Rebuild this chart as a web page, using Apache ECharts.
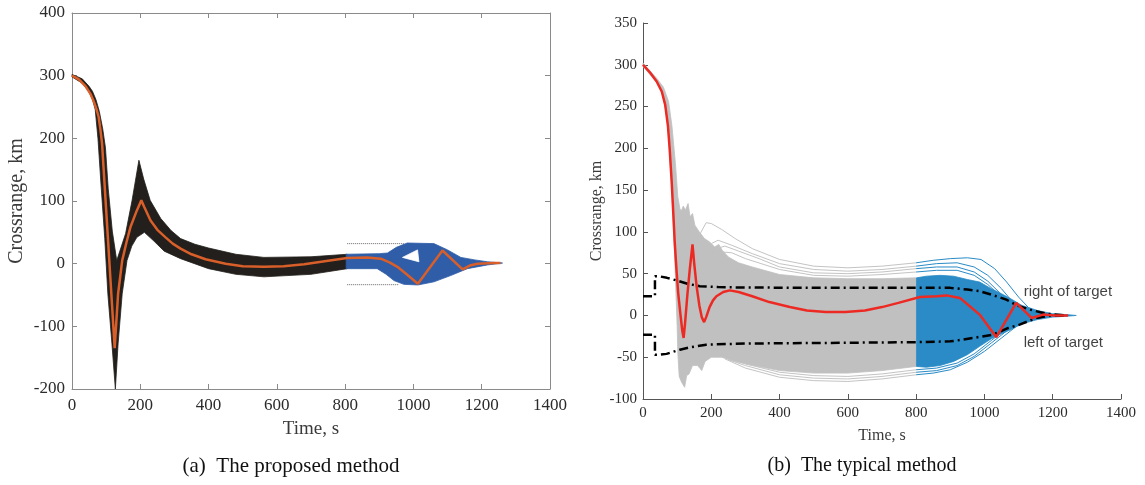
<!DOCTYPE html>
<html>
<head>
<meta charset="utf-8">
<script src="https://cdn.jsdelivr.net/npm/echarts@6/dist/echarts.min.js"></script>
<style>
html, body { margin: 0; padding: 0; background: #fff; }
#chart { width: 1145px; height: 485px; }
</style>
</head>
<body>
<div id="chart"></div>
<script>
// ---------- (a) proposed method : [time s, crossrange km] ----------
const aNominal = [[0,300],[20,294],[40,283],[54,271],[65,257],[72,246],[78,234],[83,215],[88,192],[95,130],[103,60],[110,-2],[117,-64],[125,-135],[135,-48],[147,5],[160,35],[171,58],[190,85],[203,101],[212,90],[230,69],[250,54],[274,42],[295,32],[318,24],[350,15],[391,7],[450,0],[500,-4],[562,-5],[620,-4],[680,-1],[740,4],[806,9],[865,10],[904,8],[930,2],[953,-5],[980,-17],[1013,-32],[1085,21],[1144,-9],[1165,-3],[1188,0],[1236,1],[1255,1]];
const aBundleUpper = [[0,302],[30,295],[50,283],[60,275],[70,262],[80,243],[90,215],[98,185],[106,120],[118,52],[131,5],[157,48],[176,101],[196,165],[210,135],[229,101],[260,72],[290,53],[318,40],[360,31],[400,25],[480,15],[562,10],[700,11],[806,15]];
const aBundleLower = [[0,298],[30,288],[50,274],[60,262],[68,246],[76,200],[86,118],[96,40],[105,-48],[117,-128],[127,-200],[135,-128],[147,-48],[161,5],[175,28],[190,42],[212,50],[240,36],[270,20],[318,8],[400,-8],[480,-17],[562,-21],[700,-17],[806,-8]];
const aTerminalUpper = [[803,15],[900,16],[924,17],[950,26],[982,33],[1060,32],[1100,22],[1139,10],[1180,6],[1217,3],[1261,1]];
const aTerminalLower = [[803,-8],[894,-8],[920,-17],[943,-27],[972,-33],[1013,-34],[1060,-29],[1109,-19],[1158,-8],[1217,-2],[1261,1]];
const aTerminalGap = [[968,10],[1012,22],[1016,3]];
const aBoundUpper = [[806,32],[972,32]];
const aBoundLower = [[806,-33.5],[958,-33.5]];

// ---------- (b) typical method ----------
const bNominal = [[0,300],[20,291],[40,280],[55,268],[65,252],[73,227],[78,200],[84,160],[89,120],[93,87],[98,55],[103,27],[110,0],[115,-18],[119,-27],[123,-10],[130,25],[137,55],[145,85],[150,62],[157,35],[165,12],[172,-2],[179,-8],[185,-2],[195,10],[205,18],[215,23],[235,28],[254,30],[280,28],[320,23],[370,16],[430,10],[480,6],[535,4],[593,4],[650,6],[700,10],[748,15],[811,22],[860,23],[889,24],[928,21],[957,11],[986,1],[1015,-15],[1035,-26],[1093,15],[1138,-3],[1172,1],[1205,0],[1245,0]];
const bCloudUpper = [[0,302],[40,284],[60,273],[75,256],[85,226],[95,182],[102,142],[108,128],[112,125],[118,131],[124,126],[132,134],[138,118],[145,122],[152,108],[165,100],[180,92],[195,88],[210,82],[222,85],[232,78],[250,70],[280,63],[320,58],[400,49],[500,45],[600,44],[700,44],[800,45]];
const bCloudLower = [[0,298],[40,279],[60,263],[73,227],[85,147],[93,67],[100,-13],[102,-45],[106,-73],[113,-80],[122,-86],[128,-72],[135,-70],[145,-60],[160,-60],[172,-66],[182,-55],[200,-50],[230,-50],[260,-54],[300,-58],[400,-66],[500,-69],[600,-69],[700,-66],[800,-61]];
const bTerminalUpper = [[801,45],[830,47],[870,48],[910,47],[950,43],[986,40],[1020,32],[1050,26],[1077,20],[1110,12],[1155,6],[1200,2],[1240,1],[1269,0]];
const bTerminalLower = [[801,-61],[830,-62],[870,-60],[910,-55],[950,-47],[986,-37],[1020,-28],[1050,-22],[1077,-17],[1110,-10],[1155,-5],[1200,-2],[1240,-1],[1269,0]];
const bStrayGrey = [
  [[165,96],[185,111],[200,110],[230,103],[270,92],[320,80],[400,67],[500,59],[600,57],[700,59],[800,63]],
  [[200,86],[220,90],[260,84],[320,74],[400,62],[500,55],[600,53],[700,55],[800,59]],
  [[215,80],[240,83],[280,77],[340,68],[400,58],[500,51],[600,50],[700,52],[800,56]],
  [[230,76],[260,75],[300,68],[400,55],[500,48],[600,47],[700,49],[800,52]],
  [[240,-52],[300,-63],[400,-74],[500,-78],[600,-79],[700,-76],[800,-71]],
  [[250,-53],[300,-60],[400,-71],[500,-75],[600,-76],[700,-73],[800,-68]],
  [[300,-58],[400,-68],[500,-72],[600,-73],[700,-70],[800,-65]]
];
const bStrayBlue = [
  [[800,63],[850,66],[900,68],[950,69],[990,67],[1030,56],[1065,40],[1100,22],[1130,9],[1160,3],[1200,0]],
  [[800,59],[860,62],[920,63],[970,58],[1010,48],[1050,32],[1085,15],[1120,5],[1160,0]],
  [[800,56],[860,58],[920,58],[970,52],[1010,41],[1045,27],[1080,12],[1120,3],[1160,0]],
  [[800,52],[860,54],[920,54],[970,48],[1010,37],[1050,22],[1090,8],[1130,1]],
  [[800,-71],[850,-69],[900,-65],[950,-56],[1000,-43],[1050,-27],[1100,-11],[1150,-3],[1200,0]],
  [[800,-68],[860,-66],[920,-60],[970,-49],[1020,-33],[1070,-17],[1120,-5],[1170,0]],
  [[800,-65],[860,-63],[920,-57],[970,-46],[1020,-30],[1070,-14],[1120,-4],[1170,0]]
];
const bCorridorRight = [[0,23],[35,23],[35,47],[46,47],[70,45],[98,42],[130,38],[166,35],[220,34],[282,33.5],[500,33],[800,33],[900,33],[950,31],[986,29],[1020,25],[1064,19],[1095,12],[1133,7],[1182,2],[1240,0]];
const bCorridorLeft = [[0,-23],[35,-23],[35,-47],[46,-47],[69,-46],[108,-41],[140,-38],[185,-35],[300,-33.6],[500,-33],[800,-32],[900,-31],[937,-29],[1025,-23],[1070,-15],[1103,-11],[1152,-3],[1191,-0.5],[1240,0]];
const bNotes = [{ name: 'right of target', value: [1115, 28] }, { name: 'left of target', value: [1115, -33] }];

const xTicks = { min: 0, max: 1400, interval: 200 };
const aYTicks = { min: -200, max: 400, interval: 100 };
const bYTicks = { min: -100, max: 350, interval: 50 };

const SERIF = '"Liberation Serif", "Times New Roman", serif';
const SANS = '"Liberation Sans", Arial, sans-serif';

function polygonSeries(xi, yi, outline, color, z) {
  return {
    type: 'custom', xAxisIndex: xi, yAxisIndex: yi, z: z, silent: true,
    data: [outline[0]],
    renderItem: function (params, api) {
      return {
        type: 'polygon',
        shape: { points: outline.map(function (p) { return api.coord(p); }) },
        style: { fill: color, stroke: color, lineWidth: 0.8 }
      };
    }
  };
}
function bandSeries(xi, yi, upper, lower, color, z) {
  return polygonSeries(xi, yi, upper.concat(lower.slice().reverse()), color, z);
}
function lineSeries(xi, yi, data, color, width, z, dash) {
  return {
    type: 'line', xAxisIndex: xi, yAxisIndex: yi, data: data, z: z, silent: true,
    symbol: 'none', showSymbol: false,
    lineStyle: { color: color, width: width, type: dash || 'solid' }
  };
}
function plainNumber(v) { return String(v); }

function axisCfg(grid, pos, color, labelSize, showLabel, name, nameSize, nameGap, margin, ticks) {
  return Object.assign({
    gridIndex: grid, type: 'value', position: pos,
    axisLine: { show: true, onZero: false, lineStyle: { color: color, width: 1 } },
    axisTick: { show: true, inside: true, length: 5, lineStyle: { color: color } },
    axisLabel: { show: showLabel, fontFamily: SERIF, fontSize: labelSize, color: '#2b2b2b', margin: margin, formatter: plainNumber },
    splitLine: { show: false },
    name: name, nameLocation: 'middle', nameGap: nameGap,
    nameTextStyle: { fontFamily: SERIF, fontSize: nameSize, color: '#3a3a3a' }
  }, ticks);
}

const greyA = '#8a8a8a';
const greyB = '#555555';

const series = [];
// (a) bundles
series.push(bandSeries(0, 0, aBundleUpper, aBundleLower, '#221f1c', 2));
series.push(bandSeries(0, 0, aTerminalUpper, aTerminalLower, '#2f5da8', 3));
series.push(polygonSeries(0, 0, aTerminalGap, '#ffffff', 4));
series.push(lineSeries(0, 0, aBoundUpper, '#666666', 1, 1, 'dotted'));
series.push(lineSeries(0, 0, aBoundLower, '#666666', 1, 1, 'dotted'));
series.push(lineSeries(0, 0, aNominal, '#d95f2a', 2.5, 6));
// (b) bundles
series.push(bandSeries(2, 2, bCloudUpper, bCloudLower, '#c0c0c0', 2));
bStrayGrey.forEach(function (d) { series.push(lineSeries(2, 2, d, '#c4c4c4', 1, 2)); });
series.push(bandSeries(2, 2, bTerminalUpper, bTerminalLower, '#2a8bc6', 3));
bStrayBlue.forEach(function (d) { series.push(lineSeries(2, 2, d, '#2a8bc6', 1, 3)); });
series.push(lineSeries(2, 2, bCorridorRight, '#000000', 2.5, 5, [9, 4, 2, 4]));
series.push(lineSeries(2, 2, bCorridorLeft, '#000000', 2.5, 5, [9, 4, 2, 4]));
series.push(lineSeries(2, 2, bNominal, '#ec2a23', 2.5, 6));
series.push({
  type: 'scatter', xAxisIndex: 2, yAxisIndex: 2, data: bNotes, symbolSize: 0, z: 7, silent: true,
  label: { show: true, position: 'right', distance: 0, formatter: '{b}', fontFamily: SANS, fontSize: 15, color: '#111' }
});

const chart = echarts.init(document.getElementById('chart'), null, { renderer: 'canvas' });
chart.setOption({
  animation: false,
  backgroundColor: '#ffffff',
  grid: [
    { left: 72, top: 13, width: 478, height: 376 },
    { left: 643, top: 23, width: 478, height: 376 }
  ],
  xAxis: [
    axisCfg(0, 'bottom', greyA, 17, true, 'Time, s', 19, 31, 8, xTicks),
    axisCfg(0, 'top', greyA, 17, false, '', 19, 31, 8, xTicks),
    axisCfg(1, 'bottom', greyB, 15, true, 'Time, s', 16, 29, 7, xTicks)
  ],
  yAxis: [
    axisCfg(0, 'left', greyA, 17, true, 'Crossrange, km', 20, 45, 7, aYTicks),
    axisCfg(0, 'right', greyA, 17, false, '', 20, 45, 7, aYTicks),
    axisCfg(1, 'left', greyB, 15, true, 'Crossrange, km', 16, 38, 6, bYTicks)
  ],
  graphic: [
    { type: 'text', x: 291, y: 466, silent: true,
      style: { text: '(a)  The proposed method', fontFamily: SERIF, fontSize: 21, fill: '#111', align: 'center', verticalAlign: 'middle' } },
    { type: 'text', x: 862, y: 466, silent: true,
      style: { text: '(b)  The typical method', fontFamily: SERIF, fontSize: 20, fill: '#111', align: 'center', verticalAlign: 'middle' } }
  ],
  series: series
});
</script>
</body>
</html>
